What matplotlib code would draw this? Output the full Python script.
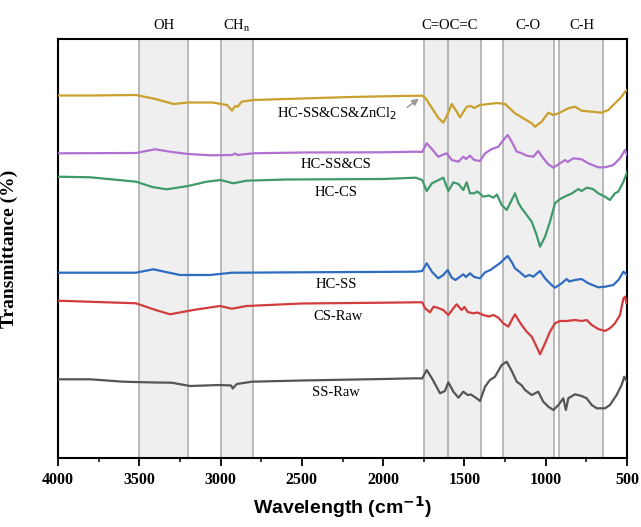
import matplotlib
matplotlib.use("Agg")
import matplotlib.pyplot as plt
from matplotlib.transforms import blended_transform_factory

# ---------------- data ----------------
gold_w = [4000, 3800, 3520, 3400, 3290, 3200, 3050, 2960, 2930, 2910, 2895, 2870, 2800, 2500, 2200, 1900,
          1760, 1740, 1700, 1660, 1630, 1600, 1578, 1550, 1527, 1486, 1460, 1440, 1404, 1350, 1300, 1250,
          1189, 1127, 1086, 1066, 1025, 984, 953, 922, 861, 820, 779, 717, 656, 615, 574, 533, 512, 500]
gold_y = [362.5, 362.5, 363, 359, 354, 355.5, 355.5, 353, 347.3, 352, 351.3, 356.3, 358, 359.5, 361, 362,
          362.3, 360, 350, 340, 335.3, 345, 354, 347, 340.7, 351.3, 352, 350, 353, 354, 355, 354,
          344.7, 338.7, 334.7, 331.3, 336.3, 345.3, 343, 344.7, 349.7, 351.3, 347.3, 346.3, 345.3, 348, 354.7, 361.3, 366.3, 368]

purple_w = [4000, 3520, 3403, 3300, 3200, 3065, 2930, 2910, 2895, 2800, 2500, 2000, 1800, 1760, 1732, 1700,
            1661, 1609, 1578, 1537, 1507, 1490, 1466, 1440, 1404, 1373, 1332, 1291, 1261, 1234, 1209, 1178,
            1150, 1117, 1076, 1046, 1015, 984, 953, 912, 881, 865, 830, 779, 738, 677, 635, 584, 543, 512, 500]
purple_y = [304.7, 305, 308.7, 306, 304, 302.7, 303, 304.5, 303, 304.7, 305.5, 305.7, 306.3, 306, 314.7, 309,
            301.3, 304.7, 298, 296.3, 301.3, 299, 302.3, 298, 297, 304.7, 309, 311.3, 318, 323, 316.3, 306.3,
            305, 302.3, 301.3, 307, 299.7, 293.7, 290.3, 294.7, 298, 296, 299.7, 298.7, 294.7, 290.7, 290.7, 293, 299.7, 308, 303]

green_w = [4000, 3800, 3520, 3420, 3331, 3200, 3086, 3000, 2922, 2840, 2600, 2000, 1800, 1760, 1732, 1700,
           1630, 1599, 1568, 1537, 1507, 1486, 1466, 1440, 1420, 1384, 1350, 1322, 1300, 1271, 1240, 1209,
           1189, 1168, 1148, 1117, 1086, 1056, 1035, 1004, 974, 943, 912, 871, 840, 799, 779, 748, 710, 677,
           635, 605, 574, 553, 522, 506, 500]
green_y = [281.3, 280.7, 276.3, 271, 268.7, 272, 276.3, 278, 274.7, 277.3, 278.5, 279, 280.3, 278, 267, 274.7,
           280.3, 267, 275.7, 274, 268, 275.7, 264.7, 264.7, 266.5, 261.3, 262.5, 260.3, 263.5, 253, 248, 258,
           264.7, 255, 249.7, 243, 236.3, 223, 211.3, 221.3, 236.3, 254.7, 259, 262.3, 264.5, 269, 267, 270.3, 269, 264.7,
           261.3, 258, 264.7, 266.5, 276.3, 283, 286]

blue_w = [4000, 3520, 3414, 3250, 3065, 2930, 2900, 2500, 1800, 1760, 1732, 1700, 1661, 1630, 1603, 1578,
          1555, 1507, 1490, 1466, 1440, 1404, 1373, 1340, 1312, 1280, 1250, 1234, 1209, 1189, 1160, 1127,
          1100, 1076, 1035, 1004, 964, 943, 902, 871, 855, 820, 779, 738, 677, 635, 584, 553, 522, 500]
blue_y = [185.3, 185.3, 188.7, 183, 183, 185.3, 185.3, 185.7, 186.3, 187, 194.7, 186.3, 179.7, 183, 188, 180.3,
          178, 183.7, 181, 184.7, 181, 179.7, 185.7, 188, 191.3, 195, 199.7, 202, 196, 189.7, 186, 181.3,
          183, 181.3, 187, 179.7, 173, 170.3, 174.7, 179, 176.5, 178, 179, 174.7, 170.7, 171.3, 173, 178, 186.3, 183]

red_w = [4000, 3520, 3400, 3311, 3168, 3004, 2930, 2840, 2500, 2000, 1800, 1760, 1742, 1712, 1690, 1661,
         1630, 1599, 1568, 1548, 1517, 1500, 1480, 1445, 1420, 1384, 1350, 1322, 1291, 1261, 1230, 1209,
         1189, 1168, 1148, 1117, 1086, 1056, 1035, 1004, 974, 943, 912, 871, 820, 779, 748, 717, 677, 635,
         605, 574, 543, 522, 512, 503, 500]
red_y = [157.3, 154.7, 148, 143.7, 148, 152, 149.3, 152, 154.5, 155.3, 155.7, 155.7, 149.7, 145.7, 151.3, 150,
         148, 143, 149.7, 153.7, 148, 151, 146, 144.7, 145.5, 143, 141.5, 143, 140.3, 134.7, 131.3, 138,
         143.7, 138, 133, 126.3, 121.3, 111.3, 103.7, 114.7, 126.3, 134.7, 137, 137, 138, 137, 138, 133, 129, 127,
         129.7, 134.7, 143, 159.7, 161.3, 154.7, 157]

black_w = [4000, 3800, 3600, 3400, 3300, 3188, 3004, 2935, 2925, 2900, 2807, 2500, 2000, 1800, 1760, 1732,
           1700, 1650, 1620, 1599, 1568, 1537, 1507, 1480, 1460, 1425, 1404, 1373, 1343, 1312, 1271, 1240,
           1209, 1178, 1150, 1127, 1086, 1046, 1015, 984, 953, 922, 892, 876, 861, 820, 779, 748, 717, 686,
           635, 605, 564, 533, 517, 500]
black_y = [78.7, 78.7, 76.3, 75.5, 75.3, 72, 73, 72.5, 69.5, 74, 76.3, 77.5, 79, 79.7, 79.5, 88,
           79.7, 64.7, 67, 75.7, 66.3, 60.3, 66.3, 63, 63.5, 59.7, 57, 71.3, 78, 81.3, 93, 96.3,
           87, 76.3, 73, 68, 63, 66.3, 56.3, 51.3, 48, 53, 59.7, 48, 59.7, 63.7, 62, 59.7, 53, 49.7,
           49.7, 53, 63, 73, 81.3, 76.3]

series_names = ["HC-SS&CS&ZnCl$_2$", "HC-SS&CS", "HC-CS", "HC-SS", "CS-Raw", "SS-Raw"]
series_colors = ["#c9a02c", "#b070d0", "#3f9a6a", "#2f6cc0", "#d23c3c", "#555555"]
series_w = [gold_w, purple_w, green_w, blue_w, red_w, black_w]
series_y = [gold_y, purple_y, green_y, blue_y, red_y, black_y]

band_ranges = [(3500, 3200), (3000, 2800), (1750, 1600), (1600, 1400), (1260, 950), (920, 650)]
band_labels = ["OH", "CH$_\\mathregular{n}$", "C=OC=C", "C-O", "C-H"]
band_label_x = [3350, 2900, 1590, 1110, 780]

label_x_w = [2285, 2290, 2290, 2290, 2280, 2290]
label_pos_y = [344, 293, 265, 173, 141, 65]

# ---------------- plot ----------------
fig = plt.figure(figsize=(6.41, 5.27), dpi=100)
ax = fig.add_axes([58 / 641, 1 - 458 / 527, 569 / 641, 419 / 527])

serif = "Liberation Serif"

for hi, lo in band_ranges:
    ax.axvspan(lo, hi, facecolor="#efefef", edgecolor="none", zorder=0)
    for v in (lo, hi):
        ax.axvline(v, color="#b5b5b5", lw=1.3, zorder=1)

for w, y, c in zip(series_w, series_y, series_colors):
    ax.plot(w, y, color=c, lw=1.6, zorder=3)

for name, xw, yv in zip(series_names, label_x_w, label_pos_y):
    ax.text(xw, yv, name, ha="center", va="center", fontsize=10.5, family=serif, zorder=4)

ax.annotate("", xy=(1767, 361), xytext=(1866, 349),
            arrowprops=dict(arrowstyle="-|>", color="#999999", lw=1.0, mutation_scale=10))

trans = blended_transform_factory(ax.transData, ax.transAxes)
for lab, xw in zip(band_labels, band_label_x):
    ax.text(xw, 1.033, lab, transform=trans, ha="center", va="center", fontsize=10.5, family=serif)

ax.set_xlim(4000, 500)
ax.set_ylim(0, 419)
ax.set_yticks([])
ax.set_xticks([4000, 3500, 3000, 2500, 2000, 1500, 1000, 500])
ax.set_xticks(range(500, 4001, 250), minor=True)
ax.tick_params(axis="x", which="major", direction="out", length=6, width=1.3, pad=4)
ax.tick_params(axis="x", which="minor", direction="out", length=3, width=1.1)
for lab in ax.get_xticklabels():
    lab.set_fontfamily(serif)
    lab.set_fontweight("bold")
    lab.set_fontsize(11.5)
for s in ax.spines.values():
    s.set_linewidth(1.5)

ax.set_xlabel("Wavelength (cm$^{\\mathbf{-1}}$)", fontsize=14, fontweight="bold", family="Liberation Sans")
ax.xaxis.set_label_coords(0.5, -0.085)
ax.set_ylabel("Transmittance (%)", fontsize=14, fontweight="bold", family=serif)
ax.yaxis.set_label_coords(-0.07, 0.5)

fig.savefig("out.png", dpi=100)
